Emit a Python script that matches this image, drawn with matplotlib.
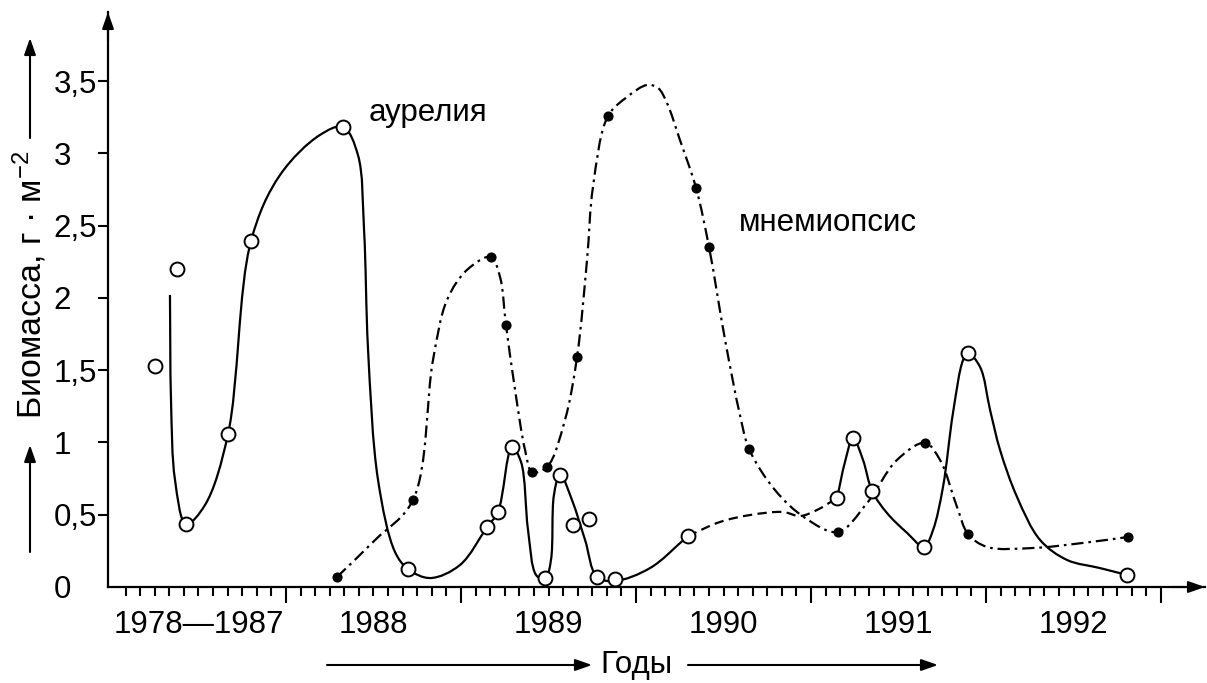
import numpy as np
import matplotlib
matplotlib.use('Agg')
import matplotlib.pyplot as plt
from matplotlib.path import Path
from matplotlib.patches import PathPatch

plt.rcParams['font.family'] = ['Liberation Sans', 'DejaVu Sans']
plt.rcParams['mathtext.fontset'] = 'custom'
plt.rcParams['mathtext.rm'] = 'Liberation Sans'
plt.rcParams['mathtext.it'] = 'Liberation Sans:italic'

# --- data (x in years, y in g/m2) ---
# aurelia: open circles
aur_x = [1987.251, 1987.377, 1987.429, 1987.669, 1987.800, 1988.326, 1988.697,
         1989.149, 1989.211, 1989.291, 1989.480, 1989.566, 1989.640, 1989.731,
         1989.777, 1989.880, 1990.297, 1991.149, 1991.240, 1991.349, 1991.646,
         1991.897, 1992.806]
aur_y = [1.529, 2.201, 0.436, 1.059, 2.394, 3.183, 0.125,
         0.415, 0.519, 0.969, 0.062, 0.775, 0.429, 0.471,
         0.069, 0.055, 0.353, 0.616, 1.031, 0.664, 0.277,
         1.619, 0.083]

# aurelia curve, solid part up to 1990
aur_line1_x = [1987.337, 1987.343, 1987.366, 1987.429, 1987.537, 1987.669, 1987.800,
               1987.966, 1988.194, 1988.326, 1988.411, 1988.446, 1988.469, 1988.526,
               1988.623, 1988.697, 1988.823, 1988.994, 1989.149, 1989.211, 1989.291,
               1989.343, 1989.383, 1989.429, 1989.480, 1989.514, 1989.531, 1989.566,
               1989.634, 1989.709, 1989.777, 1989.880, 1990.080, 1990.297]
aur_line1_y = [2.021, 1.294, 0.740, 0.436, 0.567, 1.059, 2.394,
               2.851, 3.128, 3.183, 2.990, 2.471, 1.640, 0.740,
               0.242, 0.125, 0.062, 0.152, 0.415, 0.519, 0.969,
               0.865, 0.394, 0.083, 0.048, 0.187, 0.637, 0.782,
               0.602, 0.325, 0.069, 0.042, 0.131, 0.353]

# aurelia curve, dashed part
aur_dash_x = [1990.297, 1990.480, 1990.651, 1990.840, 1990.937, 1991.034, 1991.149]
aur_dash_y = [0.353, 0.450, 0.498, 0.519, 0.491, 0.533, 0.616]

# aurelia curve, solid part 1991-1992
aur_line2_x = [1991.149, 1991.194, 1991.240, 1991.297, 1991.349, 1991.434, 1991.549,
               1991.646, 1991.697, 1991.754, 1991.811, 1991.869, 1991.897, 1991.966,
               1992.023, 1992.080, 1992.177, 1992.309, 1992.463, 1992.651, 1992.806]
aur_line2_y = [0.616, 0.865, 1.031, 0.879, 0.664, 0.512, 0.374,
               0.277, 0.394, 0.692, 1.204, 1.571, 1.619, 1.522,
               1.225, 0.948, 0.623, 0.325, 0.187, 0.131, 0.083]

# mnemiopsis: filled dots
mnem_x = [1988.291, 1988.726, 1989.171, 1989.257, 1989.406, 1989.491, 1989.663,
          1989.840, 1990.343, 1990.417, 1990.646, 1991.154, 1991.651, 1991.897,
          1992.811]
mnem_y = [0.069, 0.602, 2.284, 1.813, 0.796, 0.830, 1.592,
          3.260, 2.761, 2.353, 0.955, 0.381, 0.997, 0.367,
          0.346]

mnem_line_x = [1988.291, 1988.509, 1988.726, 1988.840, 1988.920, 1989.034, 1989.171,
               1989.223, 1989.257, 1989.309, 1989.366, 1989.406, 1989.491, 1989.594,
               1989.663, 1989.720, 1989.754, 1989.840, 1989.949, 1990.063, 1990.126,
               1990.177, 1990.251, 1990.343, 1990.417, 1990.509, 1990.594, 1990.646,
               1990.794, 1990.966, 1991.154, 1991.320, 1991.491, 1991.651, 1991.737,
               1991.834, 1991.897, 1992.006, 1992.269, 1992.554, 1992.811]
mnem_line_y = [0.069, 0.325, 0.602, 1.571, 1.986, 2.194, 2.284,
               2.145, 1.813, 1.363, 0.948, 0.796, 0.830, 1.156,
               1.592, 2.263, 2.768, 3.260, 3.391, 3.474, 3.453,
               3.349, 3.093, 2.761, 2.353, 1.709, 1.190, 0.955,
               0.671, 0.478, 0.381, 0.581, 0.879, 0.997, 0.879,
               0.554, 0.367, 0.277, 0.270, 0.305, 0.346]

year_labels = ['1978—1987', '1988', '1989', '1990', '1991', '1992']
year_starts = [1987, 1988, 1989, 1990, 1991, 1992]
y_ticks = [0, 0.5, 1, 1.5, 2, 2.5, 3, 3.5]
y_tick_labels = ['0', '0,5', '1', '1,5', '2', '2,5', '3', '3,5']


def smooth_path(ax, xs, ys, alpha=0.5):
    # centripetal Catmull-Rom through the read points, built in screen space
    # and handed to matplotlib as cubic Bezier segments
    pts = ax.transData.transform(np.column_stack([xs, ys]))
    n = len(pts)
    ext = np.vstack([2 * pts[0] - pts[1], pts, 2 * pts[-1] - pts[-2]])
    verts = [pts[0]]
    codes = [Path.MOVETO]
    for i in range(n - 1):
        p0, p1, p2, p3 = ext[i], ext[i + 1], ext[i + 2], ext[i + 3]
        d1 = max(np.linalg.norm(p1 - p0), 1e-6) ** alpha
        d2 = max(np.linalg.norm(p2 - p1), 1e-6) ** alpha
        d3 = max(np.linalg.norm(p3 - p2), 1e-6) ** alpha
        b1 = (d1 ** 2 * p2 - d2 ** 2 * p0 + (2 * d1 ** 2 + 3 * d1 * d2 + d2 ** 2) * p1) / (3 * d1 * (d1 + d2))
        b2 = (d3 ** 2 * p1 - d2 ** 2 * p3 + (2 * d3 ** 2 + 3 * d3 * d2 + d2 ** 2) * p2) / (3 * d3 * (d3 + d2))
        verts += [b1, b2, p2]
        codes += [Path.CURVE4] * 3
    verts = ax.transData.inverted().transform(np.array(verts))
    return Path(verts, codes)


W, H = 1207, 683
fig = plt.figure(figsize=(W / 100, H / 100), dpi=100)
ax = fig.add_axes([108 / W, 96 / H, (1205 - 108) / W, (587 - 12) / H])
ax.set_xlim(1986.983, 1993.251)
ax.set_ylim(0, 3.979)

for s in ['top', 'right']:
    ax.spines[s].set_visible(False)
for s in ['left', 'bottom']:
    ax.spines[s].set_linewidth(1.6)

lw = 1.6
ax.add_patch(PathPatch(smooth_path(ax, aur_line1_x, aur_line1_y), fill=False, ec='black', lw=lw))
ax.add_patch(PathPatch(smooth_path(ax, aur_dash_x, aur_dash_y), fill=False, ec='black', lw=lw,
                       linestyle=(0, (4.2, 2.4))))
ax.add_patch(PathPatch(smooth_path(ax, aur_line2_x, aur_line2_y), fill=False, ec='black', lw=lw))
ax.add_patch(PathPatch(smooth_path(ax, mnem_line_x, mnem_line_y), fill=False, ec='black', lw=lw,
                       linestyle=(0, (5.5, 2.2, 1.2, 2.2))))

ax.plot(aur_x, aur_y, 'o', ms=10, mfc='white', mec='black', mew=1.4, ls='none', zorder=5)
ax.plot(mnem_x, mnem_y, 'o', ms=6.3, color='black', ls='none', zorder=5)

# x axis: year marks and monthly minor ticks
ax.set_xticks(np.arange(1988, 1994))
ax.set_xticks([m for m in np.arange(1987 + 1 / 12, 1993, 1 / 12) if abs(m - round(m)) > 0.01],
              minor=True)
ax.tick_params(axis='x', which='major', length=11.5, width=1.5, direction='out', labelbottom=False)
ax.tick_params(axis='x', which='minor', length=6.5, width=1.5, direction='out')
for lbl, x0 in zip(year_labels, year_starts):
    ax.text(x0 + 0.5, -0.08, lbl, transform=ax.get_xaxis_transform(),
            ha='center', va='baseline', fontsize=22.5)

ax.set_yticks(y_ticks, labels=y_tick_labels)
ax.tick_params(axis='y', length=7.2, width=1.5, direction='out', pad=32, labelsize=22.5)
for t in ax.get_yticklabels():
    t.set_ha('left')
ax.yaxis.get_major_ticks()[0].tick1line.set_visible(False)

arrow = dict(arrowstyle='-|>,head_length=1.0,head_width=0.35', color='black', lw=1.5,
             shrinkA=0, shrinkB=0)
ax.annotate('', xy=(1, 0), xytext=(0.97, 0), xycoords='axes fraction',
            arrowprops=arrow, annotation_clip=False)
ax.annotate('', xy=(0, 1), xytext=(0, 0.95), xycoords='axes fraction',
            arrowprops=arrow, annotation_clip=False)

ax.text(1988.47, 3.225, 'аурелия', fontsize=22.5, va='baseline')
ax.text(1990.59, 2.464, 'мнемиопсис', fontsize=22.5, va='baseline')

# axis titles with arrows
fig.text(30 / W, 1 - 285 / H, 'Биомасса, г · м$^{-2}$', rotation=90,
         ha='center', va='center', fontsize=24.5)
ax.annotate('', xy=(30 / W, 1 - 445 / H), xytext=(30 / W, 1 - 552 / H),
            xycoords='figure fraction', arrowprops=arrow, annotation_clip=False)
ax.annotate('', xy=(30 / W, 1 - 38 / H), xytext=(30 / W, 1 - 138 / H),
            xycoords='figure fraction', arrowprops=arrow, annotation_clip=False)

fig.text(636 / W, 1 - 665 / H, 'Годы', ha='center', va='center', fontsize=22.5)
ax.annotate('', xy=(592 / W, 1 - 665 / H), xytext=(327 / W, 1 - 665 / H),
            xycoords='figure fraction', arrowprops=arrow, annotation_clip=False)
ax.annotate('', xy=(938 / W, 1 - 665 / H), xytext=(688 / W, 1 - 665 / H),
            xycoords='figure fraction', arrowprops=arrow, annotation_clip=False)

fig.savefig('out.png', dpi=100)
